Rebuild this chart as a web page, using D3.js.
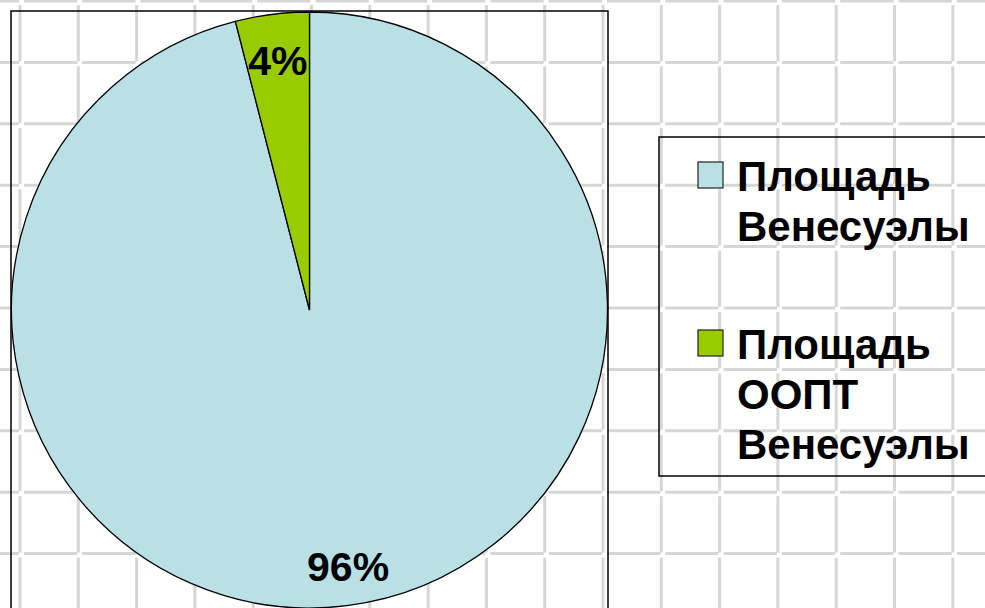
<!DOCTYPE html>
<html>
<head>
<meta charset="utf-8">
<script src="https://cdn.jsdelivr.net/npm/d3@7"></script>
<style>
  html, body { margin: 0; padding: 0; background: #fff; overflow: hidden; }
  svg { display: block; }
  text { font-family: "Liberation Sans", Arial, sans-serif; font-weight: bold; fill: #000; }
</style>
</head>
<body>
<svg id="chart"></svg>
<script>
// Data
var categories = ["Площадь Венесуэлы", "Площадь ООПТ Венесуэлы"];
var values = [96, 4];
var labels = ["96%", "4%"];
var legendLines = [["Площадь", "Венесуэлы"], ["Площадь", "ООПТ", "Венесуэлы"]];
var colors = ["#b9e0e5", "#99cc00"];

var width = 985, height = 608;

var svg = d3.select("#chart")
    .attr("width", width)
    .attr("height", height);

// background tile grid
var grid = svg.append("g");
var cellW = 58.3, cellH = 61.4;
var xs = d3.range(20 - cellW, width + cellW, cellW);
var ys = d3.range(1 - cellH, height + cellH, cellH);
xs.forEach(function (x) {
    ys.forEach(function (y) {
        // vertical piece
        grid.append("line")
            .attr("x1", x).attr("x2", x)
            .attr("y1", y + 4).attr("y2", y + cellH - 1)
            .attr("stroke", "#d6d6d6").attr("stroke-width", 3);
        // horizontal piece
        grid.append("line")
            .attr("x1", x + 4).attr("x2", x + cellW - 1)
            .attr("y1", y).attr("y2", y)
            .attr("stroke", "#d6d6d6").attr("stroke-width", 3);
    });
});

// plot area border
svg.append("rect")
    .attr("x", 11).attr("y", 11)
    .attr("width", 597).attr("height", 650)
    .attr("fill", "none")
    .attr("stroke", "#000")
    .attr("stroke-width", 1.5);

// Pie
var cx = 309.5, cy = 310, radius = 298;

var pie = d3.pie().sort(null).value(function (d) { return d; });
var arc = d3.arc().innerRadius(0).outerRadius(radius);
var labelArc = d3.arc().innerRadius(252).outerRadius(252);

var g = svg.append("g").attr("transform", "translate(" + cx + "," + cy + ")");

var slices = pie(values);

g.selectAll("path")
    .data(slices)
    .enter()
    .append("path")
    .attr("d", arc)
    .attr("fill", function (d, i) { return colors[i]; })
    .attr("stroke", "#000")
    .attr("stroke-width", 1.3);

g.selectAll("text")
    .data(slices)
    .enter()
    .append("text")
    .attr("transform", function (d) {
        var c = labelArc.centroid(d);
        // lower label sits a bit further out, like the original
        if (c[1] > 0) { c[0] += 7; c[1] += 6; }
        return "translate(" + c + ")";
    })
    .attr("text-anchor", "middle")
    .attr("dy", "0.36em")
    .style("font-size", "41px")
    .text(function (d, i) { return labels[i]; });

// Legend
var legend = svg.append("g");
legend.append("rect")
    .attr("x", 659).attr("y", 137)
    .attr("width", 400).attr("height", 339)
    .attr("fill", "none")
    .attr("stroke", "#000")
    .attr("stroke-width", 1.5);

var itemTop = [162, 330];
var lineH = 50;

categories.forEach(function (c, i) {
    legend.append("rect")
        .attr("x", 698).attr("y", itemTop[i])
        .attr("width", 25).attr("height", 26)
        .attr("fill", colors[i])
        .attr("stroke", "#222")
        .attr("stroke-width", 1.2);
    legendLines[i].forEach(function (t, j) {
        legend.append("text")
            .attr("x", 737)
            .attr("y", itemTop[i] + 29 + j * lineH)
            .style("font-size", "42px")
            .text(t);
    });
});
</script>
</body>
</html>
